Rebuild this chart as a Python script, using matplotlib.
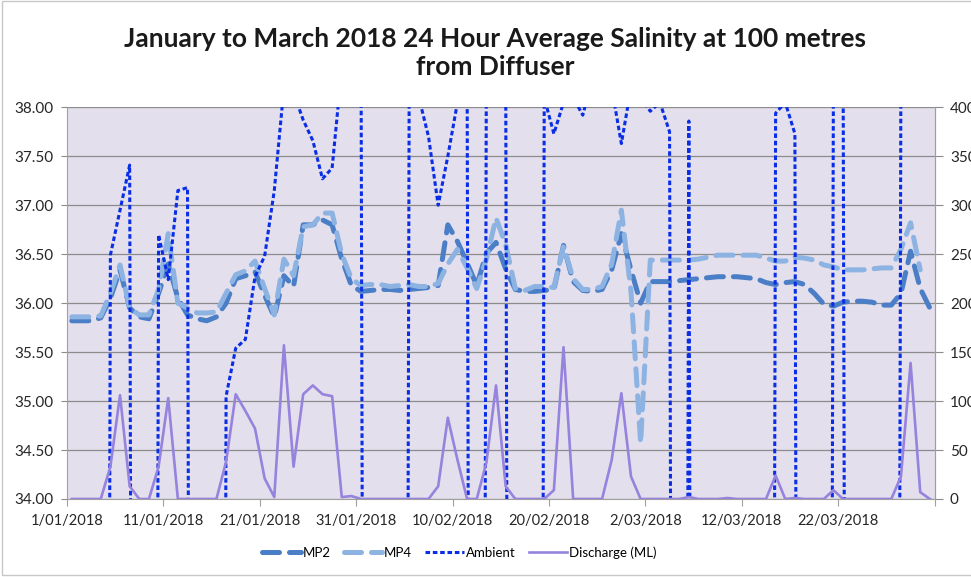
import numpy as np
import pandas as pd
import matplotlib
matplotlib.use("Agg")
import matplotlib.pyplot as plt
from matplotlib.ticker import FixedLocator, FuncFormatter, MultipleLocator
from matplotlib.patches import Rectangle
import matplotlib.dates as mdates

plt.rcParams['font.family'] = ['Lato', 'DejaVu Sans']

# daily values 1/01/2018 - 31/03/2018
dates = pd.date_range("2018-01-01", "2018-03-31", freq="D")

mp2 = [35.82, 35.82, 35.82, 35.85, 36.05, 36.34, 35.95, 35.86, 35.84, 36.10,
       36.40, 36.05, 35.88, 35.84, 35.82, 35.86, 36.00, 36.25, 36.28, 36.32,
       36.08, 35.86, 36.28, 36.17, 36.80, 36.80, 36.85, 36.80, 36.45, 36.18,
       36.12, 36.13, 36.14, 36.14, 36.13, 36.14, 36.15, 36.16, 36.18, 36.80,
       36.63, 36.41, 36.18, 36.51, 36.62, 36.35, 36.14, 36.12, 36.12, 36.13,
       36.14, 36.59, 36.22, 36.13, 36.12, 36.14, 36.34, 36.71, 36.34, 36.00,
       36.22, 36.22, 36.22, 36.23, 36.24, 36.25, 36.26, 36.27, 36.27, 36.27,
       36.26, 36.25, 36.21, 36.19, 36.21, 36.22, 36.19, 36.10, 35.99, 35.97,
       36.01, 36.02, 36.02, 36.01, 35.98, 35.98, 36.10, 36.53, 36.15, 35.95]

mp4 = [35.86, 35.86, 35.86, 35.87, 36.10, 36.39, 35.95, 35.88, 35.88, 36.14,
       36.71, 36.00, 35.95, 35.90, 35.90, 35.91, 36.10, 36.29, 36.33, 36.43,
       36.15, 35.88, 36.45, 36.28, 36.78, 36.80, 36.92, 36.92, 36.50, 36.25,
       36.18, 36.19, 36.19, 36.17, 36.18, 36.19, 36.17, 36.17, 36.20, 36.40,
       36.55, 36.36, 36.15, 36.45, 36.87, 36.60, 36.15, 36.13, 36.17, 36.17,
       36.16, 36.58, 36.25, 36.14, 36.14, 36.17, 36.40, 36.95, 36.12, 34.57,
       36.44, 36.44, 36.44, 36.44, 36.44, 36.45, 36.47, 36.49, 36.49, 36.49,
       36.49, 36.49, 36.46, 36.43, 36.43, 36.47, 36.46, 36.44, 36.39, 36.37,
       36.34, 36.34, 36.34, 36.35, 36.36, 36.36, 36.55, 36.82, 36.34, np.nan]

ambient = [0, 0, 0, 0, 36.49, 36.95, 37.41, 0, 0, 36.70,
           36.24, 37.15, 37.18, 0, 0, 0, 35.05, 35.54, 35.63, 36.27,
           36.48, 37.15, 38.20, 38.15, 37.87, 37.66, 37.27, 37.38, 38.40, 38.50,
           38.50, 0, 0, 0, 0, 38.50, 38.10, 37.70, 37.00, 37.50,
           38.05, 38.40, 0, 38.50, 38.50, 38.50, 0, 0, 0, 38.10,
           37.73, 38.05, 38.10, 37.92, 38.30, 38.30, 38.20, 37.63, 38.20, 38.10,
           37.96, 38.05, 37.75, 0, 37.86, 0, 0, 0, 0, 0,
           0, 0, 0, 37.94, 38.05, 37.73, 0, 0, 0, 38.50,
           38.50, 0, 0, 0, 0, 0, 38.50, 38.50, 38.50, 38.50]

discharge = [0, 0, 0, 0, 33, 106, 13, 0, 0, 33,
             103, 0, 0, 0, 0, 0, 38, 107, 90, 72,
             21, 2, 157, 33, 107, 116, 107, 105, 2, 3,
             0, 0, 0, 0, 0, 0, 0, 0, 13, 83,
             40, 0, 0, 37, 116, 13, 0, 0, 0, 0,
             9, 155, 0, 0, 0, 0, 40, 108, 23, 0,
             0, 0, 0, 0, 2, 0, 0, 0, 1, 0,
             0, 0, 0, 24, 0, 1, 0, 0, 0, 9,
             0, 0, 0, 0, 0, 0, 23, 139, 7, 0]

title = "January to March 2018 24 Hour Average Salinity at 100 metres\nfrom Diffuser"

# points sit in the middle of each day (Excel date axis, between tick marks)
x = dates + pd.Timedelta(hours=12)

fig = plt.figure(figsize=(9.71, 5.77), dpi=100)
ax = fig.add_axes([0.069, 0.1352, 0.8936, 0.6788])
ax.set_facecolor('#E4DFEC')

ax.plot(x, mp2, color='#4A7EC7', lw=3.6, dashes=(3.4, 2.0),
        dash_capstyle='round', label='MP2')
ax.plot(x, mp4, color='#8DB3E2', lw=3.6, dashes=(3.4, 2.0),
        dash_capstyle='round', label='MP4')
ax.plot(x, ambient, color='#0A2EE6', lw=2.2, dashes=(1.5, 0.9),
        label='Ambient')

ax2 = ax.twinx()
ax2.plot(x, discharge, color='#9683DE', lw=1.9, label='Discharge (ML)')

ax.set_ylim(34, 38)
ax2.set_ylim(0, 400)
ax.set_xlim(pd.Timestamp("2018-01-01"), pd.Timestamp("2018-04-01"))

ax.yaxis.set_major_locator(MultipleLocator(0.5))
ax.yaxis.set_major_formatter(FuncFormatter(lambda v, p: f"{v:.2f}"))
ax2.yaxis.set_major_locator(MultipleLocator(50))

xt = pd.date_range("2018-01-01", "2018-04-01", freq="10D")
ax.xaxis.set_major_locator(FixedLocator(mdates.date2num(xt)))
labels = [f"{d.day}/{d.month:02d}/{d.year}" for d in xt]
labels[-1] = ""
ax.set_xticklabels(labels)

ax.yaxis.grid(True, color='#8C8C8C', lw=0.9)
ax.set_axisbelow(True)

for a in (ax, ax2):
    for s in a.spines.values():
        s.set_color('#A0A0A0')
    a.spines['top'].set_visible(False)
ax2.spines['left'].set_visible(False)
ax2.spines['bottom'].set_visible(False)

ax.tick_params(axis='x', direction='out', length=5, color='#A0A0A0',
               labelsize=10.5, labelcolor='#262626', pad=6)
ax.tick_params(axis='y', direction='out', length=4, color='#8C8C8C',
               labelsize=11, labelcolor='#262626', pad=6)
ax2.tick_params(axis='y', direction='out', length=6, color='#8C8C8C',
                labelsize=11, labelcolor='#262626', pad=5)

fig.text(0.51, 0.909, title, ha='center', va='center', fontsize=19,
         fontweight='bold', linespacing=1.2, color='#1a1a1a')

handles = ax.get_lines() + ax2.get_lines()
fig.legend(handles, [h.get_label() for h in handles], loc='center',
           bbox_to_anchor=(0.473, 0.042), ncol=4, frameon=False,
           fontsize=9.5, handlelength=2.9, columnspacing=1.0,
           handletextpad=0.15)

fig.patches.append(Rectangle((0.002, 0.003), 1.0, 0.996,
                             transform=fig.transFigure, fill=False,
                             edgecolor='#C8C8C8', lw=1))

fig.savefig('out.png', dpi=100)
